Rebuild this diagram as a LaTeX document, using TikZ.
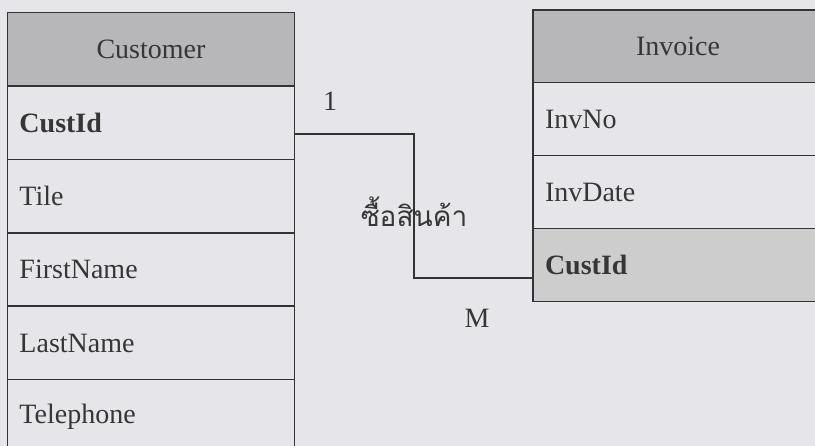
\documentclass[tikz,border=0pt]{standalone}
\usepackage{fontspec}
\setmainfont{Liberation Serif}
\newfontfamily\thaifont[Script=Thai]{Loma}
\usetikzlibrary{positioning}
\definecolor{paper}{HTML}{E6E6EA}
\definecolor{headgray}{HTML}{B7B7B9}
\definecolor{fkgray}{HTML}{CDCDCE}
\definecolor{linegray}{HTML}{333333}
\definecolor{inkgray}{HTML}{363636}
\newcommand{\tblfont}{\fontsize{28}{34}\selectfont}
\tikzset{
  tblhead/.style={draw=linegray,line width=1.6pt,fill=headgray,outer sep=0pt,
    minimum width=287pt,minimum height=73.4pt,inner sep=0pt,font=\tblfont,text=inkgray},
  tblrow/.style={draw=linegray,line width=1.6pt,fill=paper,outer sep=0pt,
    text width=263pt,align=left,minimum height=73.4pt,inner xsep=12pt,inner ysep=0pt,
    font=\tblfont,text=inkgray},
  keyrow/.style={tblrow,font=\tblfont\bfseries},
  fkrow/.style={keyrow,fill=fkgray},
  rel/.style={draw=linegray,line width=1.5pt},
  card/.style={font=\tblfont,text=inkgray}
}

\begin{document}
\begin{tikzpicture}[x=1pt,y=1pt,node distance=0pt]
  \fill[paper] (0,0) rectangle (815,-446);
  \useasboundingbox (0,0) rectangle (815,-446);
  % Customer table
  \node[tblhead,anchor=north west] (cust) at (7.5,-12.7) {Customer};
  \node[keyrow,below=of cust] (custid) {CustId};
  \node[tblrow,below=of custid] (tile) {Tile};
  \node[tblrow,below=of tile] (fname) {FirstName};
  \node[tblrow,below=of fname] (lname) {LastName};
  \node[tblrow,below=of lname] (phone) {Telephone};
  % Invoice table
  \node[tblhead,minimum width=290pt,minimum height=72.6pt,anchor=north west] (inv) at (533,-10) {Invoice};
  \node[tblrow,text width=266pt,minimum height=73pt,below=of inv] (invno) {InvNo};
  \node[tblrow,text width=266pt,minimum height=73pt,below=of invno] (invdate) {InvDate};
  \node[fkrow,text width=266pt,minimum height=73pt,below=of invdate] (invcust) {CustId};
  % relationship
  \draw[rel] ([yshift=-11pt]custid.east) -| ([xshift=-119pt,yshift=-13pt]invcust.west) -- ([yshift=-13pt]invcust.west);
  \node[card] (one) at (330,-101) {1};
  \node[card] (many) at (477,-318) {M};
  \node[card,font=\tblfont\thaifont] (buys) at (414,-212) {ซื้อสินค้า};
\end{tikzpicture}
\end{document}
